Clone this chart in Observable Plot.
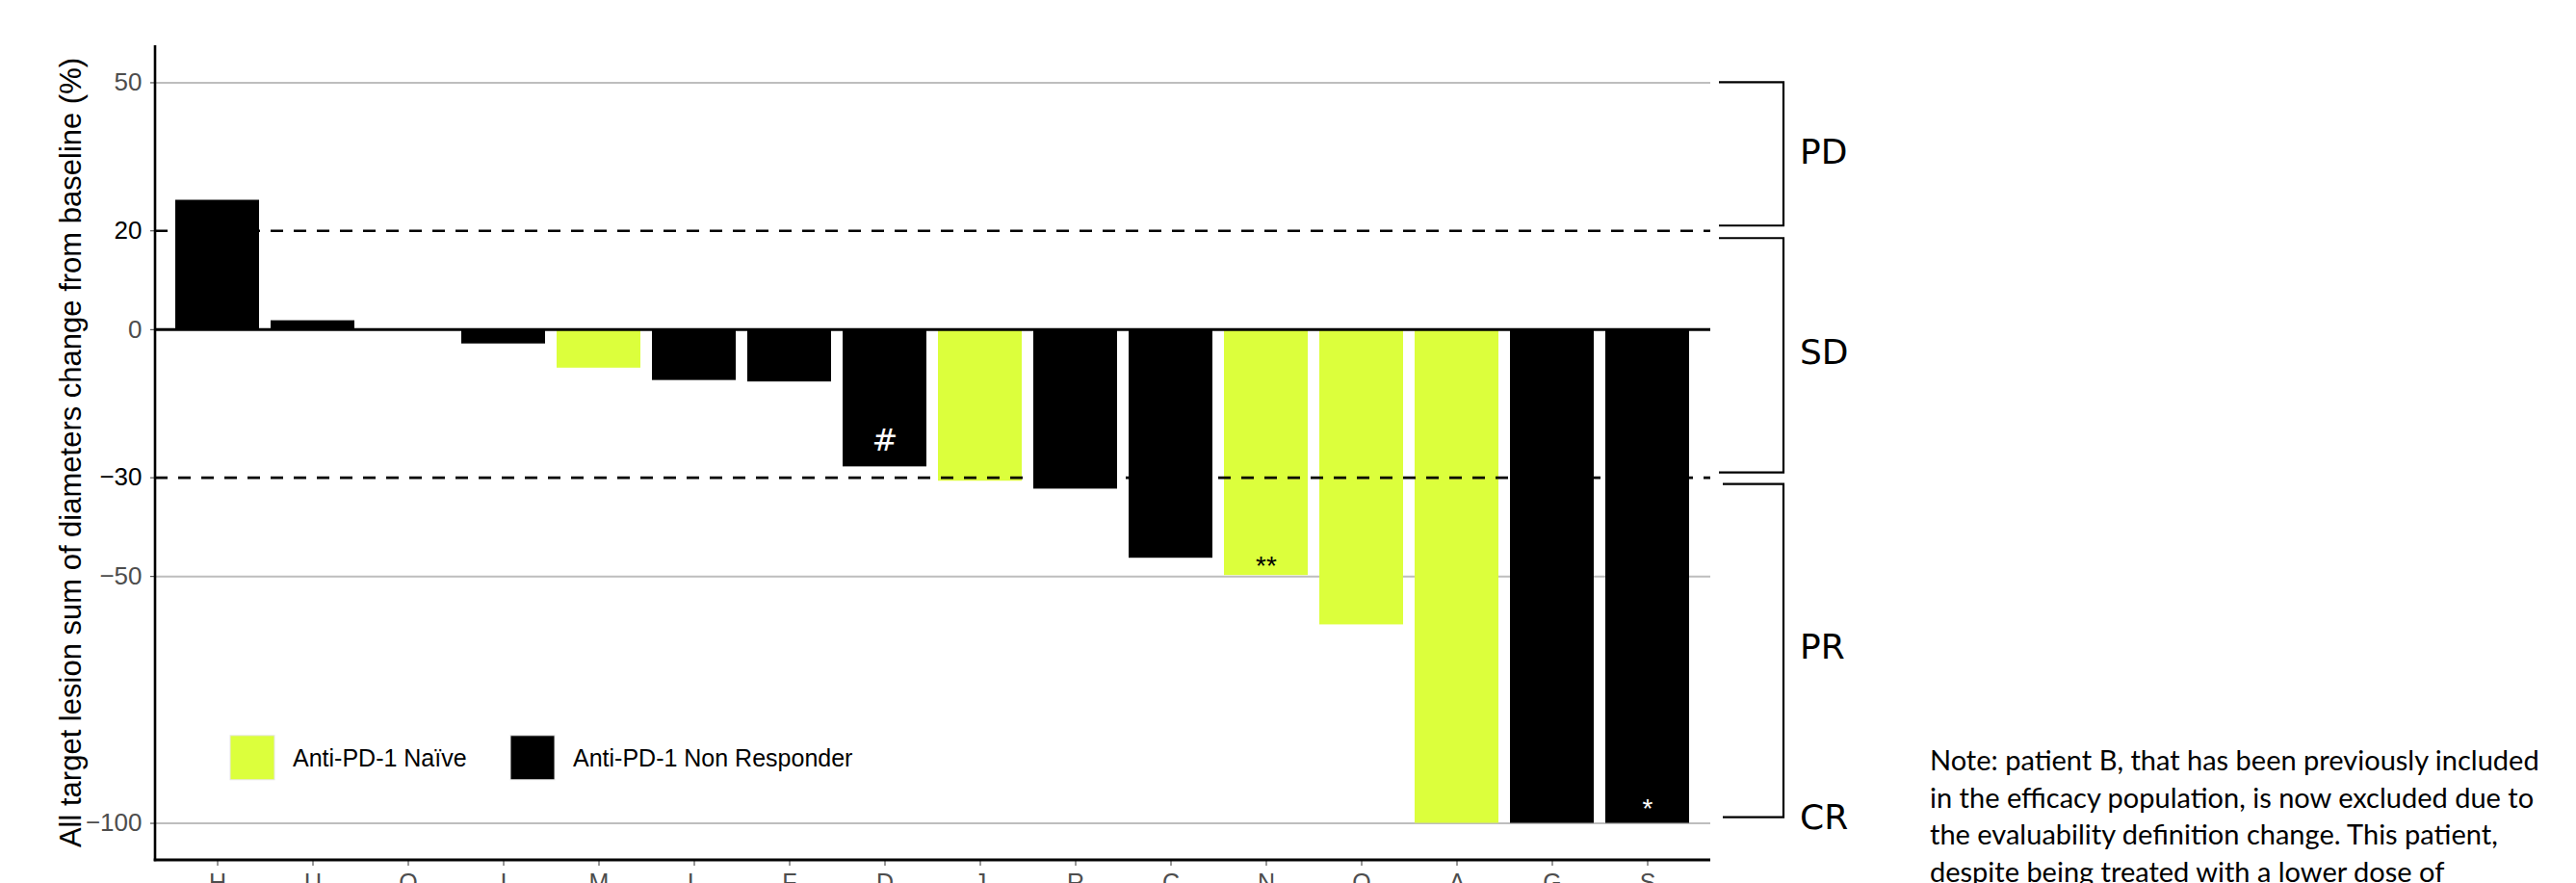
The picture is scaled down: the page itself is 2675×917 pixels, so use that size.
<!DOCTYPE html>
<html>
<head>
<meta charset="utf-8">
<script src="https://cdn.jsdelivr.net/npm/d3@7"></script>
<script src="https://cdn.jsdelivr.net/npm/@observablehq/plot@0.6"></script>
<style>
html, body { margin: 0; padding: 0; background: #fff; overflow: hidden; }
#wrap { position: relative; width: 2675px; height: 917px; }
</style>
</head>
<body>
<div id="wrap"></div>
<script>
// ---- data ----
const patients = ["H","U","Q","I","M","L","F","D","J","R","C","N","O","A","G","S"];
const changes  = [26.2, 1.8, 0, -2.9, -7.8, -10.3, -10.6, -27.8, -30.7, -32.3, -46.3, -49.8, -59.8, -100, -100, -100];
const cohortIdx = [1, 1, 1, 1, 0, 1, 1, 1, 0, 1, 1, 0, 0, 0, 1, 1];
const cohortNames = ["Anti-PD-1 Naïve", "Anti-PD-1 Non Responder"];
const cohortColors = ["#dcff3c", "#000000"];

const yTicksGrey = [50, 0, -50, -100];
const yTicksBlack = [20, -30];
const gridValues = [50, -50, -100];
const thresholdValues = [20, -30];
const yDomain = [-107.5, 57.5];

const markerText = ["#", "**", "*"];
const markerPatient = ["D", "N", "S"];
const markerValue = [-22.6, -47.9, -97.1];

const responseLabels = ["PD", "SD", "PR", "CR"];
const bracketTop = [50, 20, -30];
const bracketBottom = [20, -30, -100];

const yTitle = "All target lesion sum of diameters change from baseline (%)";
const noteLines = [
  "Note: patient B, that has been previously included",
  "in the efficacy population, is now excluded due to",
  "the evaluability definition change. This patient,",
  "despite being treated with a lower dose of"
];

// ---- build ----
const data = patients.map((p, i) => ({patient: p, change: changes[i], cohort: cohortNames[cohortIdx[i]]}));
const markers = markerText.map((t, i) => ({label: t, patient: markerPatient[i], value: markerValue[i]}));

const chart = Plot.plot({
  width: 2675,
  height: 917,
  marginLeft: 161,
  marginRight: 899,
  marginTop: 47,
  marginBottom: 24,
  style: {fontFamily: '"Liberation Sans", Arial, sans-serif', fontSize: "25px", background: "white", overflow: "visible"},
  x: {domain: patients, paddingInner: 0.12, paddingOuter: 0.16, label: null},
  y: {domain: yDomain, label: null},
  color: {domain: cohortNames, range: cohortColors},
  marks: [
    Plot.ruleY(gridValues, {stroke: "#bebebe", strokeWidth: 2}),
    Plot.barY(data, {x: "patient", y: "change", fill: "cohort"}),
    Plot.ruleY(thresholdValues, {stroke: "#000", strokeWidth: 2.6, strokeDasharray: "13,11"}),
    Plot.ruleY([0], {stroke: "#000", strokeWidth: 3}),
    Plot.text(markers.filter(d => d.label === "#"), {x: "patient", y: "value", text: "label", fill: "white", fontSize: 32, fontFamily: '"DejaVu Sans", sans-serif'}),
    Plot.text(markers.filter(d => d.label === "**"), {x: "patient", y: "value", text: "label", fill: "black", fontSize: 28}),
    Plot.text(markers.filter(d => d.label === "*"), {x: "patient", y: "value", text: "label", fill: "white", fontSize: 28}),
    Plot.axisY(yTicksGrey, {tickSize: 5, tickPadding: 9, fill: "#4d4d4d", stroke: "#333", label: null, fontSize: 26}),
    Plot.axisY(yTicksBlack, {tickSize: 5, tickPadding: 9, fill: "#000", stroke: "#333", label: null, fontSize: 26}),
    Plot.axisX({tickSize: 6, tickPadding: 8, fill: "#4d4d4d", stroke: "#333", label: null, fontSize: 25})
  ]
});
document.getElementById("wrap").appendChild(chart);

// ---- annotations using the chart's scales ----
const sx = chart.scale("x"), sy = chart.scale("y");
const [xL, xR] = sx.range;
const [yB, yT] = sy.range;
const Y = v => sy.apply(v);
const svg = d3.select(chart);
const g = svg.append("g").attr("text-anchor", "start");

// axis lines
g.append("line").attr("x1", xL).attr("x2", xL).attr("y1", yT).attr("y2", yB + 1.3)
  .attr("stroke", "#000").attr("stroke-width", 2.6);
g.append("line").attr("x1", xL - 1.3).attr("x2", xR).attr("y1", yB).attr("y2", yB)
  .attr("stroke", "#000").attr("stroke-width", 2.8);

// y title
g.append("text")
  .attr("transform", `translate(84,${(yT + yB) / 2}) rotate(-90)`)
  .attr("text-anchor", "middle")
  .attr("font-family", '"Liberation Sans", Arial, sans-serif')
  .attr("font-size", 31)
  .attr("fill", "#000")
  .text(yTitle);

// legend (inside panel)
const legX = xL + 78, legY = Y(-82.3);
const legendOffsets = [0, 291];
cohortNames.forEach((name, i) => {
  g.append("rect").attr("x", legX + legendOffsets[i]).attr("y", legY).attr("width", 46).attr("height", 46)
    .attr("fill", cohortColors[i]).attr("stroke", "#e6e6e6").attr("stroke-width", 1);
  g.append("text").attr("x", legX + legendOffsets[i] + 65).attr("y", legY + 23)
    .attr("text-anchor", "start")
    .attr("dominant-baseline", "central")
    .attr("font-family", '"Liberation Sans", Arial, sans-serif')
    .attr("font-size", 25).attr("fill", "#000").text(name);
});

// response brackets
const bx0 = xR + 9, bx1 = xR + 76;
const topInset = [0, 8, 7], botInset = [5, 5, 6];
bracketTop.forEach((t, i) => {
  const y0 = Y(t) + topInset[i], y1 = Y(bracketBottom[i]) - botInset[i];
  g.append("path").attr("d", `M${bx0 + (i === 2 ? 4 : 0)},${y0}H${bx1}V${y1}H${bx0 + (i === 2 ? 4 : 0)}`)
    .attr("fill", "none").attr("stroke", "#000").attr("stroke-width", 2.2);
});
const labelY = [
  Y((bracketTop[0] + bracketBottom[0]) / 2) - 5,
  Y((bracketTop[1] + bracketBottom[1]) / 2) - 2,
  Y((bracketTop[2] + bracketBottom[2]) / 2) - 4,
  Y(bracketBottom[2]) - 6
];
responseLabels.forEach((lab, i) => {
  g.append("text").attr("x", bx1 + 17).attr("y", labelY[i])
    .attr("text-anchor", "start")
    .attr("dominant-baseline", "central")
    .attr("font-family", '"DejaVu Sans", sans-serif')
    .attr("font-size", 36).attr("fill", "#000").text(lab);
});

// note
const note = g.append("text")
  .attr("text-anchor", "start")
  .attr("font-family", 'Lato, "Open Sans", sans-serif')
  .attr("font-size", 29).attr("fill", "#000");
noteLines.forEach((line, i) => {
  note.append("tspan").attr("x", 2004).attr("y", 800 + i * 38.7).text(line);
});
</script>
</body>
</html>
